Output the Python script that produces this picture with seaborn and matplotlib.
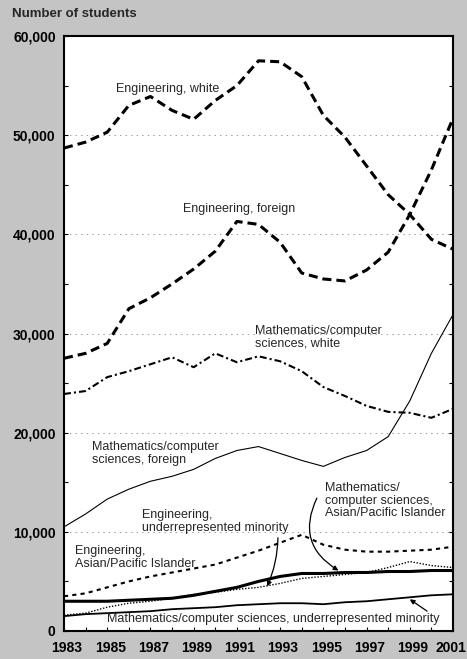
import matplotlib
matplotlib.use('Agg')
import matplotlib.pyplot as plt
import matplotlib.transforms as mtransforms
import seaborn as sns
import pandas as pd

years = list(range(1983, 2002))

eng_white = [48.7, 49.3, 50.3, 53.0, 53.9, 52.5, 51.6, 53.5, 55.0, 57.5, 57.4, 55.9,
             52.0, 49.8, 46.9, 44.0, 42.0, 39.5, 38.5]
eng_foreign = [27.5, 28.0, 29.0, 32.5, 33.6, 35.0, 36.5, 38.3, 41.3, 41.0, 39.2, 36.1,
               35.5, 35.3, 36.4, 38.2, 42.0, 46.5, 51.7]
mcs_white = [23.9, 24.2, 25.6, 26.2, 26.9, 27.6, 26.6, 28.0, 27.1, 27.7, 27.2, 26.2,
             24.6, 23.7, 22.7, 22.1, 22.0, 21.5, 22.4]
mcs_foreign = [10.5, 11.8, 13.3, 14.3, 15.1, 15.6, 16.3, 17.4, 18.2, 18.6, 17.9, 17.2,
               16.6, 17.5, 18.2, 19.6, 23.2, 28.0, 31.9]
eng_asian = [3.5, 3.8, 4.4, 5.0, 5.5, 5.9, 6.3, 6.7, 7.4, 8.1, 8.9, 9.7,
             8.7, 8.2, 8.0, 8.0, 8.1, 8.2, 8.5]
mcs_asian = [3.0, 3.0, 3.0, 3.1, 3.2, 3.3, 3.6, 4.0, 4.4, 5.0, 5.5, 5.8,
             5.8, 5.9, 5.9, 6.0, 6.0, 6.1, 6.1]
eng_urm = [1.6, 1.8, 2.4, 2.8, 3.0, 3.3, 3.7, 3.9, 4.2, 4.4, 4.8, 5.3,
           5.5, 5.7, 5.9, 6.4, 7.0, 6.6, 6.4]
mcs_urm = [1.5, 1.7, 1.8, 1.9, 2.0, 2.2, 2.3, 2.4, 2.6, 2.7, 2.8, 2.8,
           2.7, 2.9, 3.0, 3.2, 3.4, 3.6, 3.7]

y_ticks = [0, 10000, 20000, 30000, 40000, 50000, 60000]
y_tick_labels = ['0', '10,000', '20,000', '30,000', '40,000', '50,000', '60,000']
x_ticks = list(range(1983, 2002, 2))
x_tick_labels = [str(y) for y in x_ticks]

sns.set_theme(style='white')
plt.rcParams['font.family'] = ['Liberation Sans', 'DejaVu Sans']
plt.rcParams['lines.scale_dashes'] = False

BG = '#c4c4c4'
fig = plt.figure(figsize=(4.67, 6.59), dpi=100, facecolor=BG)
W, H = 467, 659
ax = fig.add_axes([64 / W, 1 - 631 / H, (453 - 64) / W, (631 - 36) / H])
ax.set_facecolor('white')

styles = [
    (eng_white, 2.2, (0, (6.5, 3.6))),
    (eng_foreign, 2.2, (0, (6.5, 3.6))),
    (mcs_white, 1.5, (0, (5.0, 2.2, 1.5, 2.2))),
    (mcs_foreign, 0.8, '-'),
    (eng_asian, 1.5, (0, (3.0, 3.0))),
    (mcs_asian, 2.2, '-'),
    (eng_urm, 1.0, (0, (1.0, 1.2))),
    (mcs_urm, 1.3, '-'),
]

for vals, lw, ls in styles:
    df = pd.DataFrame({'year': years, 'students': [v * 1000 for v in vals]})
    sns.lineplot(data=df, x='year', y='students', ax=ax, color='black',
                 linewidth=lw, estimator=None)
    ax.lines[-1].set_linestyle(ls)

ax.set_xlim(1983, 2001)
ax.set_ylim(0, 60000)
ax.set_xlabel('')
ax.set_ylabel('')

for g in y_ticks[1:-1]:
    ax.axhline(g, color='#9a9a9a', lw=0.7, ls=(0, (1.0, 3.0)), zorder=0)

ax.set_yticks(y_ticks)
ax.set_yticklabels(y_tick_labels, fontsize=10, fontweight='bold')
ax.set_xticks(x_ticks)
ax.set_xticklabels(x_tick_labels, fontsize=10, fontweight='bold')
ax.set_yticks(range(5000, 60000, 10000), minor=True)
ax.set_xticks(range(1984, 2001, 2), minor=True)
ax.tick_params(axis='both', which='both', direction='in', length=3, width=0.8,
               colors='black', left=True, bottom=True, right=True)
ax.tick_params(axis='y', pad=6)
ax.tick_params(axis='x', pad=7)
xlabels = ax.get_xticklabels()
for i, lbl in enumerate(xlabels):
    dx = 3 if i < len(xlabels) - 1 else -2
    shift = mtransforms.ScaledTranslation(dx / 100, 0, fig.dpi_scale_trans)
    lbl.set_transform(lbl.get_transform() + shift)
for s in ax.spines.values():
    s.set_color('black')
    s.set_linewidth(1.5)

fig.text(12 / W, 1 - 14 / H, 'Number of students', fontsize=9.5, fontweight='bold',
         va='center', ha='left')

fs = 9
ax.text(1985.4, 54700, 'Engineering, white', fontsize=fs, va='center')
ax.text(1988.5, 42600, 'Engineering, foreign', fontsize=fs, va='center')
ax.text(1991.85, 29600, 'Mathematics/computer\nsciences, white', fontsize=fs,
        va='center', linespacing=1.1)
ax.text(1984.3, 17900, 'Mathematics/computer\nsciences, foreign', fontsize=fs,
        va='center', linespacing=1.1)
ax.text(1986.6, 11050, 'Engineering,\nunderrepresented minority', fontsize=fs,
        va='center', linespacing=1.1)
ax.text(1983.5, 7400, 'Engineering,\nAsian/Pacific Islander', fontsize=fs,
        va='center', linespacing=1.1)
ax.text(1995.1, 13150, 'Mathematics/\ncomputer sciences,\nAsian/Pacific Islander',
        fontsize=fs, va='center', linespacing=1.1)
ax.text(1985.0, 1200, 'Mathematics/computer sciences, underrepresented minority',
        fontsize=fs, va='center')

ap = dict(arrowstyle='-|>', color='black', lw=0.9, mutation_scale=7,
          shrinkA=0, shrinkB=0)
ax.annotate('', xy=(1992.4, 4500), xytext=(1992.9, 9400),
            arrowprops=dict(ap, connectionstyle='arc3,rad=-0.1'))
ax.annotate('', xy=(1995.7, 6100), xytext=(1994.7, 13400),
            arrowprops=dict(ap, connectionstyle='arc3,rad=0.45'))
ax.annotate('', xy=(1999.0, 3200), xytext=(1999.8, 2000),
            arrowprops=dict(ap, connectionstyle='arc3,rad=0'))

fig.savefig('out.png', dpi=100, facecolor=BG)
